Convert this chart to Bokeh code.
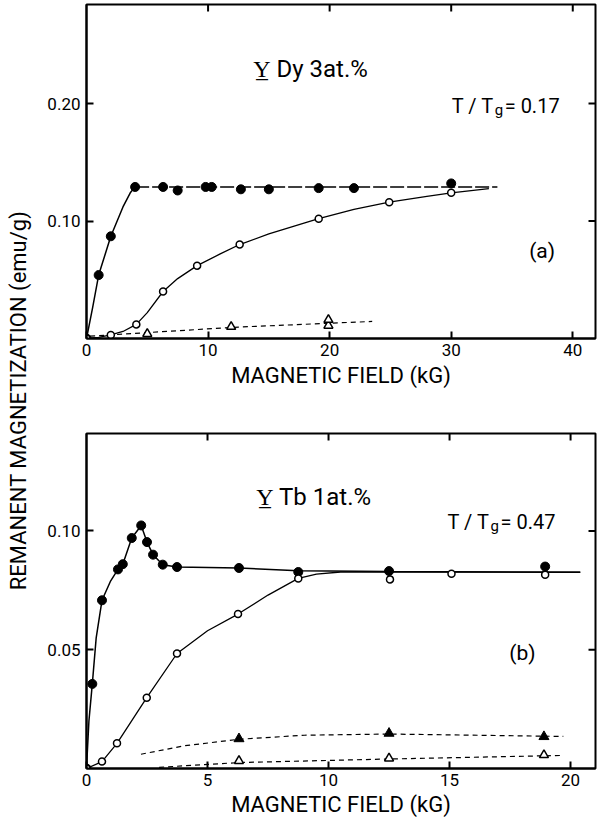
from math import pi
from bokeh.plotting import figure
from bokeh.models import Label, FixedTicker, PrintfTickFormatter, Range1d
from bokeh.layouts import row, column
from bokeh.embed import file_html
from bokeh.resources import INLINE

FONT = "Roboto"

# ---------------- Panel (a): Y Dy 3 at.%, T/Tg = 0.17 ----------------
a_filled_H = [0, 1.0, 2.0, 4.0, 6.3, 7.5, 9.8, 10.3, 12.7, 15.0, 19.1, 22.0, 30.0]
a_filled_M = [0, 0.054, 0.087, 0.129, 0.129, 0.126, 0.129, 0.129, 0.127, 0.127, 0.128, 0.128, 0.132]
a_open_H = [0, 2.0, 4.1, 6.3, 9.1, 12.6, 19.1, 24.9, 30.0]
a_open_M = [0, 0.003, 0.012, 0.040, 0.062, 0.080, 0.102, 0.116, 0.124]
a_otri_H = [5.0, 11.9, 19.9, 19.9]
a_otri_M = [0.004, 0.010, 0.011, 0.016]
# hand-drawn curves
a_filled_rise_H = [0, 0.5, 1.0, 2.0, 3.0, 3.6, 4.0]
a_filled_rise_M = [0, 0.026, 0.054, 0.087, 0.112, 0.124, 0.129]
a_filled_flat_H = [4.0, 33.8]
a_filled_flat_M = [0.129, 0.129]
a_open_curve_H = [0, 1, 2, 3, 4.1, 5, 6.3, 7.5, 9.1, 11, 12.6, 15, 19.1, 22, 24.9, 28, 30, 33.1]
a_open_curve_M = [0, 0.001, 0.003, 0.006, 0.012, 0.022, 0.040, 0.051, 0.062, 0.072, 0.080,
                  0.089, 0.102, 0.110, 0.116, 0.121, 0.124, 0.1276]
a_otri_curve_H = [0.3, 5.0, 12.0, 20.0, 23.5]
a_otri_curve_M = [0.002, 0.005, 0.0095, 0.013, 0.0145]
a_xticks = [0, 10, 20, 30, 40]
a_yticks = [0.10, 0.20]

# ---------------- Panel (b): Y Tb 1 at.%, T/Tg = 0.47 ----------------
b_filled_H = [0, 0.24, 0.64, 1.30, 1.50, 1.87, 2.26, 2.50, 2.75, 3.15, 3.74, 6.3, 8.75, 12.5, 18.95]
b_filled_M = [0, 0.0356, 0.0708, 0.0838, 0.086, 0.097, 0.1023, 0.0953, 0.090, 0.0858, 0.0848,
              0.0844, 0.0827, 0.0831, 0.085]
b_open_H = [0, 0.64, 1.26, 2.49, 3.74, 6.26, 8.75, 12.54, 15.08, 18.95]
b_open_M = [0, 0.0029, 0.0106, 0.0298, 0.0484, 0.065, 0.080, 0.0796, 0.082, 0.0816]
b_ftri_H = [6.3, 12.5, 18.9]
b_ftri_M = [0.0125, 0.0148, 0.0134]
b_otri_H = [6.3, 12.5, 18.9]
b_otri_M = [0.0032, 0.0043, 0.0057]
# hand-drawn curves
b_filled_curve_H = [0, 0.1, 0.24, 0.4, 0.64, 1.0, 1.3, 1.5, 1.87, 2.26, 2.5, 2.75, 3.15, 3.74,
                    6.3, 8.75, 12.5, 20.4]
b_filled_curve_M = [0, 0.020, 0.0356, 0.055, 0.0708, 0.079, 0.0838, 0.086, 0.097, 0.1023, 0.0953,
                    0.090, 0.0858, 0.0848, 0.0844, 0.0832, 0.0829, 0.0826]
b_open_curve_H = [0, 0.64, 1.26, 2.49, 3.74, 5.0, 6.26, 7.5, 8.75, 9.5, 10.5, 20.4]
b_open_curve_M = [0, 0.0029, 0.0106, 0.0298, 0.0484, 0.058, 0.065, 0.073, 0.080, 0.0818, 0.0827, 0.0826]
b_ftri_curve_H = [2.25, 4.0, 6.3, 9.0, 12.5, 19.7]
b_ftri_curve_M = [0.006, 0.0095, 0.0123, 0.014, 0.0145, 0.0135]
b_otri_curve_H = [3.0, 6.3, 12.5, 19.7]
b_otri_curve_M = [0.0005, 0.0025, 0.004, 0.0055]
b_xticks = [0, 5, 10, 15, 20]
b_yticks = [0.05, 0.10]

X_LABEL = "MAGNETIC FIELD (kG)"
Y_LABEL = "REMANENT MAGNETIZATION (emu/g)"

TICK_LEN = 7  # px, ticks point inwards


def style_axis(ax, ticks, fmt=None, standoff=5):
    ax.ticker = FixedTicker(ticks=ticks)
    ax.axis_line_color = "black"
    ax.axis_line_width = 2
    ax.major_tick_in = TICK_LEN
    ax.major_tick_out = 0
    ax.major_tick_line_width = 2
    ax.major_tick_line_color = "black"
    ax.minor_tick_in = 0
    ax.minor_tick_out = 0
    if fmt:
        ax.formatter = PrintfTickFormatter(format=fmt)
    ax.major_label_text_font = FONT
    ax.major_label_text_font_size = "17px"
    ax.major_label_text_color = "black"
    ax.major_label_standoff = standoff


def make_panel(width, height, xr, yr, xticks, yticks, mbl, mbr, mbt, mbb,
               label_standoff, x_standoff):
    p = figure(width=width, height=height, x_range=Range1d(*xr), y_range=Range1d(*yr),
               toolbar_location=None, output_backend="svg",
               min_border_left=mbl, min_border_right=mbr, min_border_top=mbt,
               min_border_bottom=mbb)
    p.grid.visible = False
    p.outline_line_color = "black"
    p.outline_line_width = 2
    style_axis(p.xaxis[0], xticks, standoff=x_standoff)
    style_axis(p.yaxis[0], yticks, fmt="%.2f", standoff=6)
    p.xaxis[0].axis_label = X_LABEL
    p.xaxis[0].axis_label_text_font = FONT
    p.xaxis[0].axis_label_text_font_size = "22px"
    p.xaxis[0].axis_label_text_font_style = "normal"
    p.xaxis[0].axis_label_text_color = "black"
    p.xaxis[0].axis_label_standoff = label_standoff
    # mirrored inward ticks on the top and right frame edges
    fw = width - mbl - mbr
    fh = height - mbt - mbb
    x0, x1 = xr
    y0, y1 = yr
    dy = TICK_LEN * (y1 - y0) / fh
    dx = TICK_LEN * (x1 - x0) / fw
    tx = [t for t in xticks if t > x0]
    p.segment(x0=tx, y0=[y1] * len(tx), x1=tx, y1=[y1 - dy] * len(tx),
              line_color="black", line_width=2)
    p.segment(x0=[x1] * len(yticks), y0=yticks, x1=[x1 - dx] * len(yticks), y1=yticks,
              line_color="black", line_width=2)
    return p


def filled(p, x, y, marker="circle", size=9):
    p.scatter(x, y, marker=marker, size=size, fill_color="black", line_color="black")


def hollow(p, x, y, marker="circle", size=7):
    p.scatter(x, y, marker=marker, size=size, fill_color="white", line_color="black",
              line_width=1.5)


def lbl(p, x, y, text, size, align="left", baseline="alphabetic", angle=0):
    p.add_layout(Label(x=x, y=y, text=text, text_font=FONT, text_font_size=size,
                       text_align=align, text_baseline=baseline, text_color="black",
                       angle=angle))


# ---------------- top panel ----------------
p1 = make_panel(561, 396, (0, 41.87), (0, 0.2843), a_xticks, a_yticks,
                mbl=50, mbr=1, mbt=4, mbb=58, label_standoff=4, x_standoff=5)
p1.line(a_filled_rise_H, a_filled_rise_M, line_color="black", line_width=1.5)
p1.line(a_filled_flat_H, a_filled_flat_M, line_color="black", line_width=1.5, line_dash="14 3")
p1.line(a_open_curve_H, a_open_curve_M, line_color="black", line_width=1.3)
p1.line(a_otri_curve_H, a_otri_curve_M, line_color="black", line_width=1.2, line_dash="5 4")
filled(p1, a_filled_H, a_filled_M)
hollow(p1, a_open_H, a_open_M)
hollow(p1, a_otri_H, a_otri_M, marker="triangle", size=9)
lbl(p1, 13.71, 0.2298, "Y\u0332 Dy 3at.%", "24px")
lbl(p1, 30.05, 0.1983, "T / T", "20px")
lbl(p1, 33.58, 0.1949, "g", "15px")
lbl(p1, 34.40, 0.1983, "= 0.17", "20px")
lbl(p1, 37.48, 0.0749, "(a)", "21px", align="center", baseline="middle")

# ---------------- bottom panel ----------------
p2 = make_panel(561, 425, (0, 21.03), (0, 0.141), b_xticks, b_yticks,
                mbl=49, mbr=2, mbt=37, mbb=53, label_standoff=3, x_standoff=5)
p2.line(b_filled_curve_H, b_filled_curve_M, line_color="black", line_width=1.5)
p2.line(b_open_curve_H, b_open_curve_M, line_color="black", line_width=1.3)
p2.line(b_ftri_curve_H, b_ftri_curve_M, line_color="black", line_width=1.2, line_dash="5 4")
p2.line(b_otri_curve_H, b_otri_curve_M, line_color="black", line_width=1.2, line_dash="5 4")
filled(p2, b_filled_H, b_filled_M)
hollow(p2, b_open_H, b_open_M)
filled(p2, b_ftri_H, b_ftri_M, marker="triangle", size=10)
hollow(p2, b_otri_H, b_otri_M, marker="triangle", size=9)
lbl(p2, 7.01, 0.1143, "Y\u0332 Tb 1at.%", "24px")
lbl(p2, 14.92, 0.1038, "T / T", "20px")
lbl(p2, 16.69, 0.1021, "g", "15px")
lbl(p2, 17.11, 0.1038, "= 0.47", "20px")
lbl(p2, 18.01, 0.0486, "(b)", "21px", align="center", baseline="middle")

# ---------------- shared y-axis title ----------------
lab = figure(width=36, height=821, x_range=Range1d(0, 36), y_range=Range1d(0, 821),
             x_axis_type=None, y_axis_type=None, toolbar_location=None, output_backend="svg",
             min_border=0)
lab.outline_line_color = None
lab.grid.visible = False
lbl(lab, 18, 421, Y_LABEL, "22px", align="center", baseline="middle", angle=pi / 2)

layout = row(lab, column(p1, p2, spacing=0), spacing=0)

with open("out.html", "w") as f:
    f.write(file_html(layout, INLINE))
